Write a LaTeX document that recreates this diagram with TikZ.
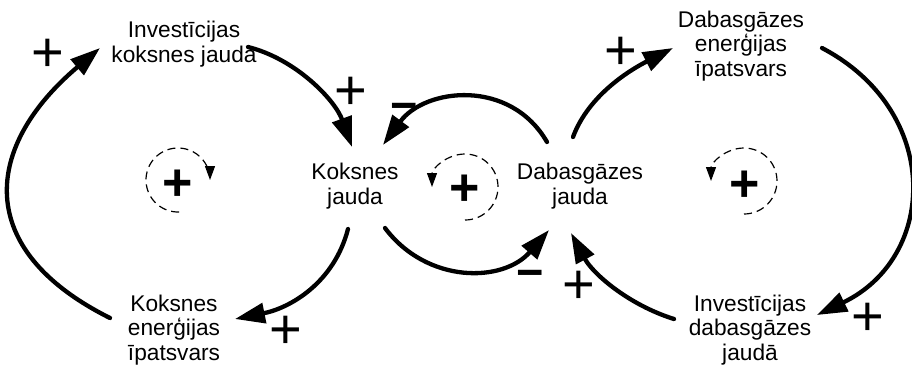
\documentclass[tikz,border=0pt]{standalone}
\usepackage{fontspec}
\setmainfont{Liberation Sans}
\usetikzlibrary{arrows.meta}
\begin{document}
\begin{tikzpicture}[x=1pt,y=-1pt,
  lbl/.style={align=center,font=\fontsize{22.7}{24.5}\selectfont,inner sep=0pt},
  sgn/.style={font=\fontsize{56}{56}\selectfont,inner sep=0pt},
  msgn/.style={font=\bfseries\fontsize{47}{47}\selectfont,inner sep=0pt},
  lsgn/.style={font=\bfseries\fontsize{52}{52}\selectfont,inner sep=0pt},
  link/.style={line width=4.3pt,line cap=round,-{Triangle[length=30pt,width=20pt]}},
  loopln/.style={line width=1.2pt,dash pattern=on 8pt off 5pt,-{Triangle[length=14pt,width=10pt]}}]
\path[fill=white,use as bounding box] (0,0) rectangle (912,372);

% variables
\node[lbl] (IK) at (184,44) {Investīcijas\\koksnes jaudā};
\node[lbl] (KJ) at (355,186) {Koksnes\\jauda};
\node[lbl] (DJ) at (580,186) {Dabasgāzes\\jauda};
\node[lbl] (DE) at (741,46) {Dabasgāzes\\enerģijas\\īpatsvars};
\node[lbl] (KE) at (174,330) {Koksnes\\enerģijas\\īpatsvars};
\node[lbl] (ID) at (750,330) {Investīcijas\\dabasgāzes\\jaudā};

% loop markers
\node[lsgn] (L1) at (178,185) {+};
\node[lsgn] (L2) at (465,190) {+};
\node[lsgn] (L3) at (745,186) {+};
\coordinate (C1) at (178,180);
\coordinate (C2) at (465,187);
\coordinate (C3) at (744,181);
\draw[loopln] ([shift={(88:32)}]C1) arc[start angle=88,end angle=360,radius=32];
\draw[loopln] ([shift={(90:33)}]C2) arc[start angle=90,end angle=-180,radius=33];
\draw[loopln] ([shift={(90:33)}]C3) arc[start angle=90,end angle=-180,radius=33];

% polarity signs
\node[sgn] (s1) at (48,55) {+};
\node[sgn] (s2) at (351,93) {+};
\node[msgn] (s3) at (404,112) {−};
\node[msgn] (s4) at (530,279) {−};
\node[sgn] (s5) at (286,332) {+};
\node[sgn] (s6) at (621,53) {+};
\node[sgn] (s7) at (868,319) {+};
\node[sgn] (s8) at (579,287) {+};

% causal links
\draw[link] ([shift={(64,3)}]IK.center) .. controls (296,59) and (335,100) .. ([shift={(-3,-39)}]KJ.center);
\draw[link] ([shift={(-33,-44)}]DJ.center) .. controls (510,78) and (425,88) .. ([shift={(28,-41)}]KJ.center);
\draw[link] ([shift={(30,42)}]KJ.center) .. controls (427,284) and (503,283) .. ([shift={(-31,44)}]DJ.center);
\draw[link] ([shift={(-7,43)}]KJ.center) .. controls (334,283) and (290,308) .. ([shift={(61,-11)}]KE.center);
\draw[link] ([shift={(-64,-12)}]KE.center) .. controls (-28,249) and (-16,146) .. ([shift={(-84,4)}]IK.center);
\draw[link] ([shift={(-7,-49)}]DJ.center) .. controls (589,94) and (632,69) .. ([shift={(-68,2)}]DE.center);
\draw[link] ([shift={(81,2)}]DE.center) .. controls (942,111) and (938,257) .. ([shift={(67,-15)}]ID.center);
\draw[link] ([shift={(-76,-11)}]ID.center) .. controls (629,305) and (593,274) .. ([shift={(-9,47)}]DJ.center);
\end{tikzpicture}
\end{document}
